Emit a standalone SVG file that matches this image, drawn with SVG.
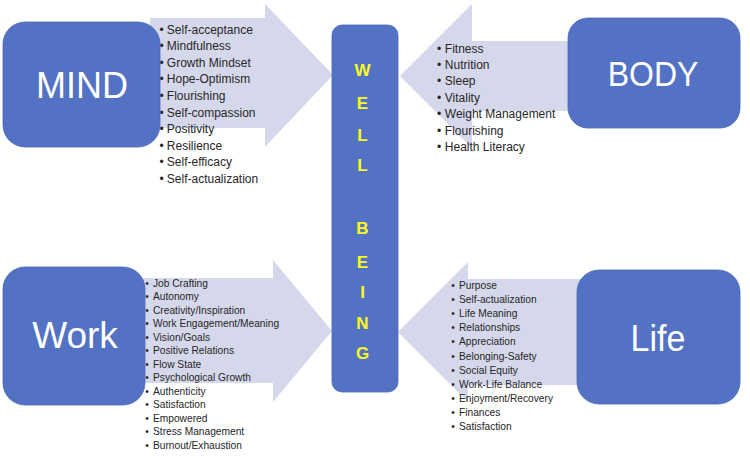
<svg xmlns="http://www.w3.org/2000/svg" width="750" height="464" viewBox="0 0 750 464">
<style>
.arrow{fill:#D5D8EB;stroke:none}
.box{fill:#5372C4;stroke:#4A68B8;stroke-width:0.8}
.big{font-family:"Liberation Sans",Arial,sans-serif;fill:#FFFFFF;text-anchor:middle}
.li{font-family:"Liberation Sans",Arial,sans-serif;fill:#262626}
.l12{font-size:12px}
.l10{font-size:10.2px}
.wb{font-family:"Liberation Sans",Arial,sans-serif;font-weight:bold;font-size:17px;fill:#FAFA1E;text-anchor:middle}
</style>
<rect width="750" height="464" fill="#FFFFFF"/>
<g id="connectors">
  <polygon class="arrow" points="150,18 265,18 265,4 333,75 265,147 265,128 150,128"/>
  <polygon class="arrow" points="600,41 472,41 472,4 400,76 472,148 472,111 600,111"/>
  <polygon class="arrow" points="140,278 273,278 273,260 332,331 273,402 273,383 140,383"/>
  <polygon class="arrow" points="600,279 468,279 468,262 398,332 468,402 468,385 600,385"/>
</g>
<g id="mind-list" class="li l12">
  <text y="33.5"><tspan x="159.6">•</tspan><tspan x="166.8">Self-acceptance</tspan></text>
  <text y="50.1"><tspan x="159.6">•</tspan><tspan x="166.8">Mindfulness</tspan></text>
  <text y="66.7"><tspan x="159.6">•</tspan><tspan x="166.8">Growth Mindset</tspan></text>
  <text y="83.3"><tspan x="159.6">•</tspan><tspan x="166.8">Hope-Optimism</tspan></text>
  <text y="99.9"><tspan x="159.6">•</tspan><tspan x="166.8">Flourishing</tspan></text>
  <text y="116.5"><tspan x="159.6">•</tspan><tspan x="166.8">Self-compassion</tspan></text>
  <text y="133.1"><tspan x="159.6">•</tspan><tspan x="166.8">Positivity</tspan></text>
  <text y="149.7"><tspan x="159.6">•</tspan><tspan x="166.8">Resilience</tspan></text>
  <text y="166.3"><tspan x="159.6">•</tspan><tspan x="166.8">Self-efficacy</tspan></text>
  <text y="182.9"><tspan x="159.6">•</tspan><tspan x="166.8">Self-actualization</tspan></text>
</g>
<g id="body-list" class="li l12">
  <text y="52.5"><tspan x="437">•</tspan><tspan x="444.8">Fitness</tspan></text>
  <text y="68.9"><tspan x="437">•</tspan><tspan x="444.8">Nutrition</tspan></text>
  <text y="85.3"><tspan x="437">•</tspan><tspan x="444.8">Sleep</tspan></text>
  <text y="101.7"><tspan x="437">•</tspan><tspan x="444.8">Vitality</tspan></text>
  <text y="118.1"><tspan x="437">•</tspan><tspan x="444.8">Weight Management</tspan></text>
  <text y="134.5"><tspan x="437">•</tspan><tspan x="444.8">Flourishing</tspan></text>
  <text y="150.9"><tspan x="437">•</tspan><tspan x="444.8">Health Literacy</tspan></text>
</g>
<g id="work-list" class="li l10">
  <text y="286.9"><tspan x="145.3">•</tspan><tspan x="153">Job Crafting</tspan></text>
  <text y="300.4"><tspan x="145.3">•</tspan><tspan x="153">Autonomy</tspan></text>
  <text y="313.8"><tspan x="145.3">•</tspan><tspan x="153">Creativity/Inspiration</tspan></text>
  <text y="327.3"><tspan x="145.3">•</tspan><tspan x="153">Work Engagement/Meaning</tspan></text>
  <text y="340.8"><tspan x="145.3">•</tspan><tspan x="153">Vision/Goals</tspan></text>
  <text y="354.2"><tspan x="145.3">•</tspan><tspan x="153">Positive Relations</tspan></text>
  <text y="367.7"><tspan x="145.3">•</tspan><tspan x="153">Flow State</tspan></text>
  <text y="381.2"><tspan x="145.3">•</tspan><tspan x="153">Psychological Growth</tspan></text>
  <text y="394.7"><tspan x="145.3">•</tspan><tspan x="153">Authenticity</tspan></text>
  <text y="408.1"><tspan x="145.3">•</tspan><tspan x="153">Satisfaction</tspan></text>
  <text y="421.6"><tspan x="145.3">•</tspan><tspan x="153">Empowered</tspan></text>
  <text y="435.1"><tspan x="145.3">•</tspan><tspan x="153">Stress Management</tspan></text>
  <text y="448.5"><tspan x="145.3">•</tspan><tspan x="153">Burnout/Exhaustion</tspan></text>
</g>
<g id="life-list" class="li l10">
  <text y="288.6"><tspan x="451.3">•</tspan><tspan x="459">Purpose</tspan></text>
  <text y="302.8"><tspan x="451.3">•</tspan><tspan x="459">Self-actualization</tspan></text>
  <text y="316.9"><tspan x="451.3">•</tspan><tspan x="459">Life Meaning</tspan></text>
  <text y="331.1"><tspan x="451.3">•</tspan><tspan x="459">Relationships</tspan></text>
  <text y="345.3"><tspan x="451.3">•</tspan><tspan x="459">Appreciation</tspan></text>
  <text y="359.5"><tspan x="451.3">•</tspan><tspan x="459">Belonging-Safety</tspan></text>
  <text y="373.6"><tspan x="451.3">•</tspan><tspan x="459">Social Equity</tspan></text>
  <text y="387.8"><tspan x="451.3">•</tspan><tspan x="459">Work-Life Balance</tspan></text>
  <text y="402"><tspan x="451.3">•</tspan><tspan x="459">Enjoyment/Recovery</tspan></text>
  <text y="416.1"><tspan x="451.3">•</tspan><tspan x="459">Finances</tspan></text>
  <text y="430.3"><tspan x="451.3">•</tspan><tspan x="459">Satisfaction</tspan></text>
</g>
<g id="mind">
  <rect class="box" x="3" y="22" width="157" height="125" rx="22"/>
  <text class="big" x="82" y="98" font-size="36">MIND</text>
</g>
<g id="body">
  <rect class="box" x="568" y="18" width="172" height="110" rx="20"/>
  <text class="big" transform="translate(653,86) scale(1,1.12)" font-size="32">BODY</text>
</g>
<g id="work">
  <rect class="box" x="3" y="267" width="142" height="138" rx="22"/>
  <text class="big" x="75" y="348" font-size="37">Work</text>
</g>
<g id="life">
  <rect class="box" x="577" y="270" width="163" height="134" rx="22"/>
  <text class="big" transform="translate(658,350.5) scale(1,1.1)" font-size="34">Life</text>
</g>
<g id="wellbeing">
  <rect class="box" x="332" y="25" width="66" height="367" rx="10"/>
  <text class="wb" x="362.5" y="76.1">W</text>
  <text class="wb" x="362.5" y="109.4">E</text>
  <text class="wb" x="362.5" y="141.1">L</text>
  <text class="wb" x="362.5" y="171.1">L</text>
  <text class="wb" x="362.5" y="234.1">B</text>
  <text class="wb" x="362.5" y="267.7">E</text>
  <text class="wb" x="362.5" y="297.7">I</text>
  <text class="wb" x="362.5" y="329.1">N</text>
  <text class="wb" x="362.5" y="359.1">G</text>
</g>
</svg>
